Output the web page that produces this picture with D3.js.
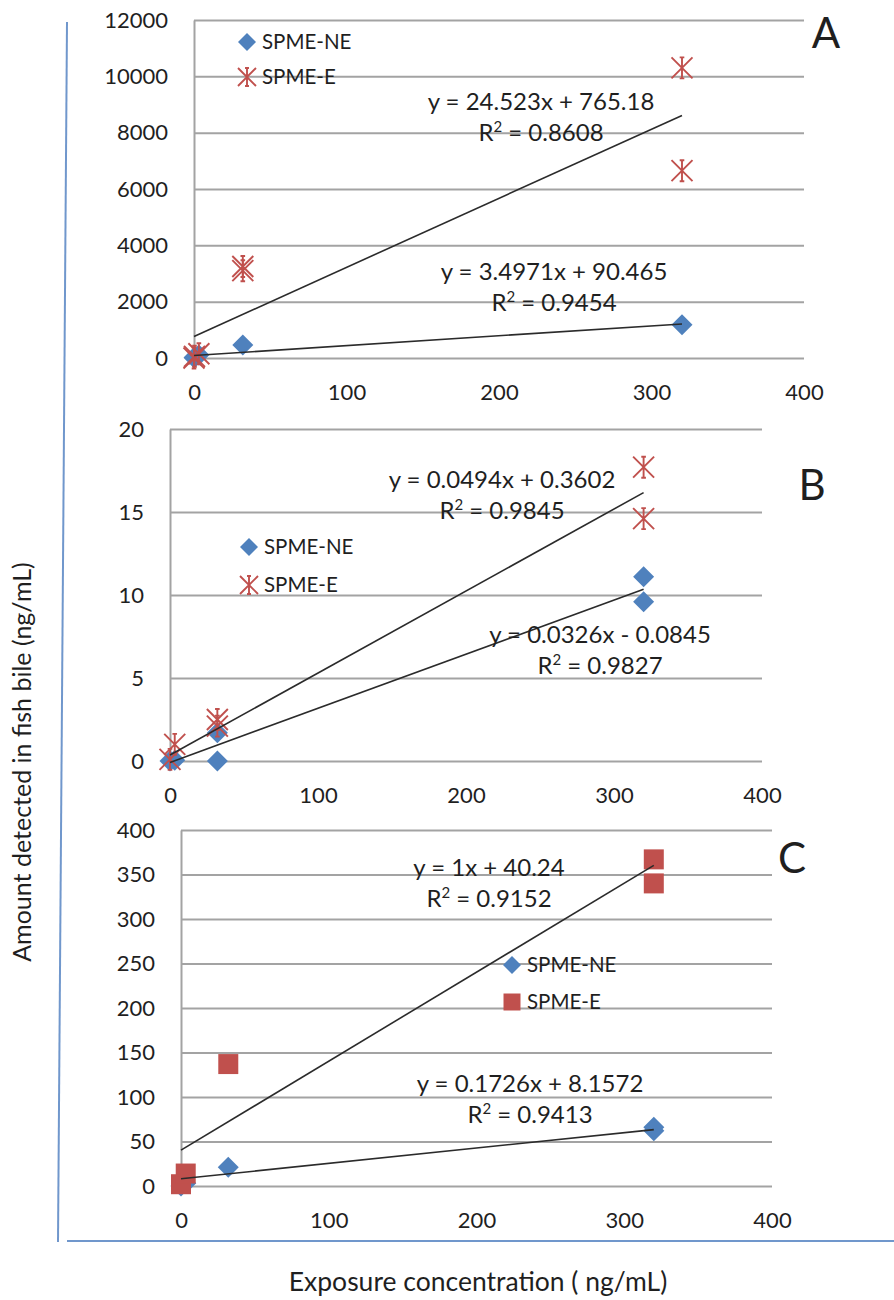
<!DOCTYPE html>
<html>
<head>
<meta charset="utf-8">
<script src="https://cdn.jsdelivr.net/npm/d3@7"></script>
<style>
  body { margin: 0; background: #fff; }
  svg { display: block; }
  text { font-family: Lato, "Open Sans", sans-serif; fill: #1f1f1f; }
</style>
</head>
<body>
<svg id="chart" width="894" height="1300"></svg>
<script>
// Axis ticks
const xTicks = [0, 100, 200, 300, 400];
const yTicksA = [0, 2000, 4000, 6000, 8000, 10000, 12000];
const yTicksB = [0, 5, 10, 15, 20];
const yTicksC = [0, 50, 100, 150, 200, 250, 300, 350, 400];
const seriesNames = ["SPME-NE", "SPME-E"];

// Panel A: exposure concentration (ng/mL) vs amount in bile (ng/mL)
const concA_NE = [0, 0.32, 3.2, 32, 320];
const amountA_NE = [5, 30, 110, 460, 1180];
const concA_E = [0, 0.32, 3.2, 32, 32, 320, 320];
const amountA_E = [0, 60, 150, 3100, 3250, 10300, 6650];
// linear fits: [slope, intercept, R²]
const fitA_NE = [3.4971, 90.465, 0.9454];
const fitA_E = [24.523, 765.18, 0.8608];

// Panel B
const concB_NE = [0, 3.2, 32, 32, 320, 320];
const amountB_NE = [0, 0.05, 0, 1.7, 11.1, 9.6];
const concB_E = [0, 3.2, 32, 32, 320, 320];
const amountB_E = [0.1, 1.0, 2.1, 2.5, 17.7, 14.6];
const fitB_NE = [0.0326, -0.0845, 0.9827];
const fitB_E = [0.0494, 0.3602, 0.9845];

// Panel C
const concC_NE = [0, 3.2, 32, 320, 320];
const amountC_NE = [0, 3, 21, 62, 66];
const concC_E = [0, 3.2, 32, 320, 320];
const amountC_E = [2, 14, 137, 367, 340];
const fitC_NE = [0.1726, 8.1572, 0.9413];
const fitC_E = [1, 40.24, 0.9152];

const BLUE = "#4f81bd", RED = "#c0504d", GRID = "#a3a3a3";

const panels = [
  { letter: "A", box: { left: 194, right: 804, top: 20, bottom: 358 }, yTicks: yTicksA,
    series: [
      { x: concA_NE, y: amountA_NE, shape: "diamond", fit: fitA_NE, eq: [554, 272] },
      { x: concA_E, y: amountA_E, shape: "star", fit: fitA_E, eq: [541, 102] }
    ],
    letterPos: [826, 48], legend: { x: 247, y: [42, 77] } },
  { letter: "B", box: { left: 170, right: 762, top: 429, bottom: 761 }, yTicks: yTicksB,
    series: [
      { x: concB_NE, y: amountB_NE, shape: "diamond", fit: fitB_NE, eq: [600, 635] },
      { x: concB_E, y: amountB_E, shape: "star", fit: fitB_E, eq: [502, 480] }
    ],
    letterPos: [812, 500], legend: { x: 249, y: [547, 585] } },
  { letter: "C", box: { left: 181, right: 772, top: 830, bottom: 1186 }, yTicks: yTicksC,
    series: [
      { x: concC_NE, y: amountC_NE, shape: "diamond", fit: fitC_NE, eq: [530, 1084] },
      { x: concC_E, y: amountC_E, shape: "square", fit: fitC_E, eq: [489, 868] }
    ],
    letterPos: [792, 873], legend: { x: 512, y: [965, 1002] } }
];

const svg = d3.select("#chart");

// Outer frame lines around the stacked panels
svg.append("line").attr("x1", 67).attr("y1", 22).attr("x2", 58).attr("y2", 1242)
  .attr("stroke", "#7097cc").attr("stroke-width", 2);
svg.append("line").attr("x1", 67).attr("y1", 1241).attr("x2", 894).attr("y2", 1241)
  .attr("stroke", "#7097cc").attr("stroke-width", 2);

function markerPath(shape, r) {
  if (shape === "diamond") return `M0,${-r}L${r},0L0,${r}L${-r},0Z`;
  if (shape === "square") return `M${-r},${-r}H${r}V${r}H${-r}Z`;
  const c = r * 0.22;
  return `M${-r},${-r}L${r},${r}M${-r},${r}L${r},${-r}M0,${-r}V${r}` +
         `M${-c},${-r}H${c}M${-c},${r}H${c}`;
}
function drawMarker(g, shape, x, y, r) {
  const color = shape === "diamond" ? BLUE : RED;
  const p = g.append("path").attr("d", markerPath(shape, r))
    .attr("transform", `translate(${x},${y})`);
  if (shape === "star") p.attr("fill", "none").attr("stroke", color).attr("stroke-width", 1.9);
  else p.attr("fill", color);
}
function fmt(v) { return String(v); }

panels.forEach(p => {
  const b = p.box;
  const x = d3.scaleLinear().domain([0, 400]).range([b.left, b.right]);
  const y = d3.scaleLinear().domain([0, d3.max(p.yTicks)]).range([b.bottom, b.top]);
  const g = svg.append("g");

  // y axis with gridlines
  const ya = g.append("g").attr("transform", `translate(${b.left},0)`)
    .call(d3.axisLeft(y).tickValues(p.yTicks).tickFormat(d3.format("d"))
      .tickSize(-(b.right - b.left)).tickSizeOuter(0).tickPadding(26));
  ya.selectAll(".tick line").attr("stroke", GRID).attr("stroke-width", 2);
  ya.select(".domain").attr("stroke", GRID).attr("stroke-width", 2);
  ya.selectAll(".tick text").attr("font-size", 22).attr("fill", "#1f1f1f")
    .style("font-family", "Lato, sans-serif");

  // x axis labels
  const xa = g.append("g").attr("transform", `translate(0,${b.bottom})`)
    .call(d3.axisBottom(x).tickValues(xTicks).tickSize(0).tickPadding(26));
  xa.select(".domain").remove();
  xa.selectAll(".tick text").attr("font-size", 22).attr("fill", "#1f1f1f")
    .style("font-family", "Lato, sans-serif");

  // data markers
  p.series.forEach(s => {
    const r = s.shape === "square" ? 10 : 10.5;
    s.x.forEach((xv, i) => drawMarker(g, s.shape, x(xv), y(s.y[i]), r));
  });

  // fitted trend lines over the fitted range
  p.series.forEach(s => {
    const [m, c] = s.fit;
    const x0 = 0, x1 = d3.max(s.x);
    g.append("line")
      .attr("x1", x(x0)).attr("y1", y(m * x0 + c))
      .attr("x2", x(x1)).attr("y2", y(m * x1 + c))
      .attr("stroke", "#2b2b2b").attr("stroke-width", 1.6);
  });

  // trend equations
  p.series.forEach(s => {
    const [m, c, r2] = s.fit;
    const [cx, cy] = s.eq;
    const eq = `y = ${fmt(m)}x ${c < 0 ? "-" : "+"} ${fmt(Math.abs(c))}`;
    g.append("text").attr("x", cx).attr("y", cy).attr("dy", "0.35em")
      .attr("text-anchor", "middle").attr("font-size", 24).text(eq);
    const t = g.append("text").attr("x", cx).attr("y", cy + 31).attr("dy", "0.35em")
      .attr("text-anchor", "middle").attr("font-size", 24);
    t.append("tspan").text("R");
    t.append("tspan").attr("font-size", 15).attr("baseline-shift", "super").text("2");
    t.append("tspan").text(` = ${fmt(r2)}`);
  });

  // legend
  p.series.forEach((s, i) => {
    drawMarker(g, s.shape, p.legend.x, p.legend.y[i], s.shape === "square" ? 8.5 : 9);
    g.append("text").attr("x", p.legend.x + 15).attr("y", p.legend.y[i]).attr("dy", "0.35em")
      .attr("font-size", 20.5).text(seriesNames[i]);
  });

  // panel letter
  g.append("text").attr("x", p.letterPos[0]).attr("y", p.letterPos[1])
    .attr("text-anchor", "middle").attr("font-size", 42).attr("fill", "#000").text(p.letter);
});

// Axis titles
svg.append("text").attr("transform", "translate(22,762) rotate(-90)")
  .attr("text-anchor", "middle").attr("dy", "0.35em").attr("font-size", 25)
  .text("Amount detected in fish bile (ng/mL)");
svg.append("text").attr("x", 478).attr("y", 1282).attr("dy", "0.35em")
  .attr("text-anchor", "middle").attr("font-size", 26.5)
  .text("Exposure concentration ( ng/mL)");
</script>
</body>
</html>
